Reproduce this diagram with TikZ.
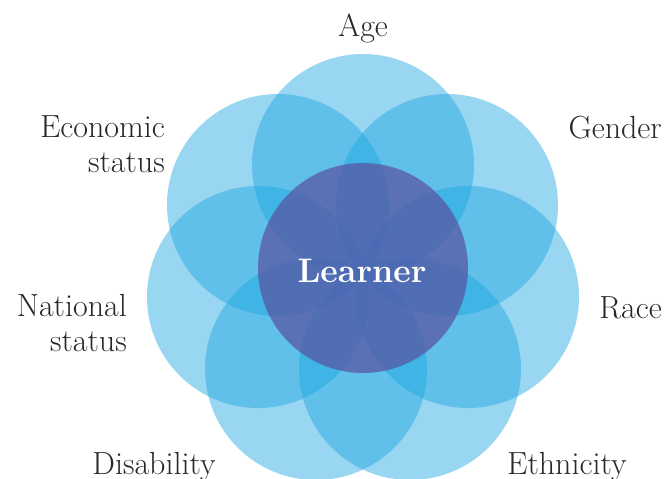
\documentclass[tikz,border=0pt]{standalone}
\usepackage{tikz}
\usepackage{xcolor}
\definecolor{facetblue}{RGB}{27,165,225}
\definecolor{learnerpurple}{RGB}{88,80,160}
\definecolor{labelgrey}{RGB}{40,40,40}
\tikzset{
    facet/.style={fill=facetblue, fill opacity=0.45},
    facetlabel/.style={font=\fontsize{32}{35}\selectfont, text=labelgrey, inner sep=0pt},
}

\begin{document}
\begin{tikzpicture}[x=1pt,y=-1pt]
    \useasboundingbox (0,0) rectangle (667,479);
    % seven overlapping circles
    \foreach \cx/\cy in {363/165, 447/205, 468/297, 410/369, 316/369, 258/297, 278/205}
        \fill[facet] (\cx,\cy) circle (111);
    \fill[learnerpurple, fill opacity=0.7] (363,268) circle (105);
    \node[inner sep=0pt, anchor=base, text=white, font=\fontsize{34}{38}\selectfont\bfseries] (learner) at (362,282) {Learner};
    % labels
    \node[facetlabel, anchor=base] (age) at (363,36) {Age};
    \node[facetlabel, anchor=base east] (gender) at (662,138) {Gender};
    \node[facetlabel, anchor=base east] (race) at (662,318) {Race};
    \node[facetlabel, anchor=base] (ethnicity) at (567,474) {Ethnicity};
    \node[facetlabel, anchor=base] (disability) at (154,474) {Disability};
    \node[facetlabel, anchor=base east, align=right] (national) at (127,351) {National\\status};
    \node[facetlabel, anchor=base east, align=right] (economic) at (165,172) {Economic\\status};
\end{tikzpicture}
\end{document}
